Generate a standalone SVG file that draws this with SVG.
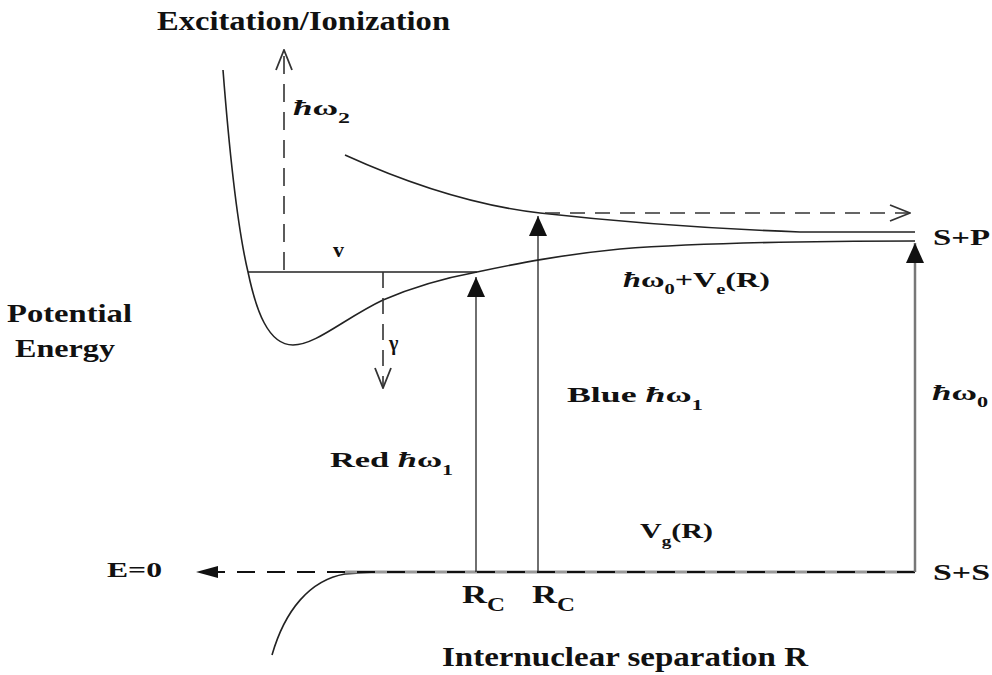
<svg xmlns="http://www.w3.org/2000/svg" width="992" height="675" viewBox="0 0 992 675">
<defs>
<style>
.t{font-family:"Liberation Serif","Times New Roman",serif;font-weight:bold;fill:#111}
.h{font-style:italic}
.c{fill:none;stroke:#222;stroke-width:1.6}
.d{fill:none;stroke:#333;stroke-width:1.6;stroke-dasharray:16 10}
.s{fill:none;stroke:#222;stroke-width:1.3}
</style>
<marker id="fa" viewBox="0 0 20 18" refX="20" refY="9" markerWidth="20" markerHeight="18" markerUnits="userSpaceOnUse" orient="auto">
<path d="M0,0 L20,9 L0,18 z" fill="#111"/>
</marker>
<marker id="fs" viewBox="0 0 22 12" refX="22" refY="6" markerWidth="22" markerHeight="12" markerUnits="userSpaceOnUse" orient="auto">
<path d="M0,0 L22,6 L0,12 z" fill="#111"/>
</marker>
<marker id="oa" viewBox="0 0 22 18" refX="21" refY="9" markerWidth="22" markerHeight="18" markerUnits="userSpaceOnUse" orient="auto">
<path d="M1,1 L21,9 L1,17" fill="none" stroke="#333" stroke-width="1.8"/>
</marker>
</defs>
<rect width="992" height="675" fill="#fff"/>

<g id="curves">
<path id="well" class="c" d="M223,70 C230,160 238,230 248,272 C256,310 268,345 293,345 C316,345 345,318 383,300 C420,284 450,277 477,272 C520,263 560,255 620,249 C700,243 800,241 915,241"/>
<path id="repulsive" class="c" d="M345,155 C400,180 470,205 540,213 C620,222 720,229 800,232 L915,232"/>
<path id="ground" class="c" d="M272,655 C285,610 310,580 345,574 L375,572"/>
<line id="level" class="s" x1="248" y1="272" x2="477" y2="272"/>
<line x1="345" y1="572" x2="915" y2="572" stroke="#999" stroke-width="3"/>
</g>

<g id="connectors">
<line class="d" x1="284" y1="270" x2="284" y2="50" marker-end="url(#oa)" style="stroke-dasharray:18 10"/>
<line class="d" x1="383" y1="272" x2="383" y2="388" marker-end="url(#oa)"/>
<line class="d" x1="545" y1="213" x2="910" y2="213" marker-end="url(#oa)" style="stroke-dasharray:15 10"/>
<line x1="915" y1="572" x2="196" y2="572" stroke="#111" stroke-width="2" stroke-dasharray="18 12" marker-end="url(#fs)"/>
<line class="s" x1="476" y1="572" x2="476" y2="277" marker-end="url(#fa)"/>
<line class="s" x1="538" y1="572" x2="538" y2="216" marker-end="url(#fa)"/>
<line x1="915" y1="572" x2="915" y2="243" stroke="#777" stroke-width="2.5" marker-end="url(#fa)"/>
</g>

<g id="labels">
<text class="t" x="157" y="30" font-size="28" textLength="293" lengthAdjust="spacingAndGlyphs">Excitation/Ionization</text>
<text class="t" x="293" y="115" font-size="22" textLength="57" lengthAdjust="spacingAndGlyphs"><tspan class="h">ħ</tspan>ω<tspan font-size="15" dy="8">2</tspan></text>
<text class="t" x="333" y="257" font-size="22">v</text>
<text class="t" x="389" y="350" font-size="20" font-weight="normal">γ</text>
<text class="t" x="7" y="322" font-size="25" textLength="125" lengthAdjust="spacingAndGlyphs">Potential</text>
<text class="t" x="15" y="357" font-size="25" textLength="100" lengthAdjust="spacingAndGlyphs">Energy</text>
<text class="t" x="623" y="287" font-size="22" textLength="147" lengthAdjust="spacingAndGlyphs"><tspan class="h">ħ</tspan>ω<tspan font-size="14" dy="7">0</tspan><tspan dy="-7">+V</tspan><tspan font-size="14" dy="7">e</tspan><tspan dy="-7">(R)</tspan></text>
<text class="t" x="933" y="245" font-size="24" textLength="57" lengthAdjust="spacingAndGlyphs">S+P</text>
<text class="t" x="567" y="402" font-size="22" textLength="136" lengthAdjust="spacingAndGlyphs">Blue  <tspan class="h">ħ</tspan>ω<tspan font-size="14" dy="8">1</tspan></text>
<text class="t" x="330" y="467" font-size="22" textLength="123" lengthAdjust="spacingAndGlyphs">Red  <tspan class="h">ħ</tspan>ω<tspan font-size="14" dy="8">1</tspan></text>
<text class="t" x="932" y="400" font-size="22" textLength="56" lengthAdjust="spacingAndGlyphs"><tspan class="h">ħ</tspan>ω<tspan font-size="14" dy="7">0</tspan></text>
<text class="t" x="640" y="538" font-size="22" textLength="73" lengthAdjust="spacingAndGlyphs">V<tspan font-size="14" dy="8">g</tspan><tspan dy="-8">(R)</tspan></text>
<text class="t" x="107" y="577" font-size="22" textLength="55" lengthAdjust="spacingAndGlyphs">E=0</text>
<text class="t" x="933" y="580" font-size="24" textLength="57" lengthAdjust="spacingAndGlyphs">S+S</text>
<text class="t" x="462" y="603" font-size="25" textLength="43" lengthAdjust="spacingAndGlyphs">R<tspan font-size="18" dy="8">C</tspan></text>
<text class="t" x="532" y="603" font-size="25" textLength="43" lengthAdjust="spacingAndGlyphs">R<tspan font-size="18" dy="8">C</tspan></text>
<text class="t" x="442" y="666" font-size="27" textLength="366" lengthAdjust="spacingAndGlyphs">Internuclear separation R</text>
</g>
</svg>
